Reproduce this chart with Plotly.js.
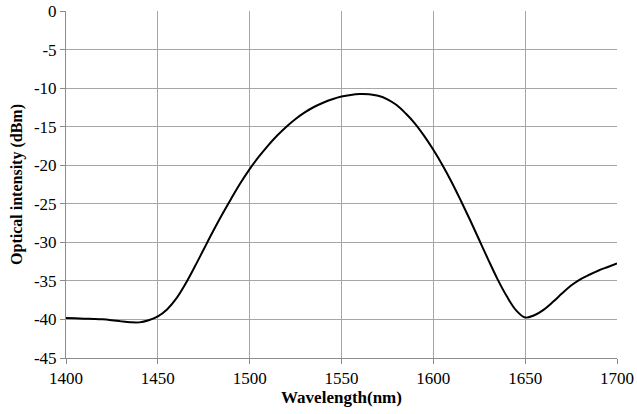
<!DOCTYPE html>
<html>
<head>
<meta charset="utf-8">
<script src="https://cdn.plot.ly/plotly-3.0.1.min.js"></script>
<style>
  html, body { margin: 0; padding: 0; background: #fff; }
  #chart { width: 637px; height: 414px; }
</style>
</head>
<body>
<div id="chart"></div>
<script>
// Transmission spectrum, sampled every 5 nm
const wavelength = [
  1400, 1405, 1410, 1415, 1420, 1425, 1430, 1435, 1440, 1445,
  1450, 1455, 1460, 1465, 1470, 1475, 1480, 1485, 1490, 1495,
  1500, 1505, 1510, 1515, 1520, 1525, 1530, 1535, 1540, 1545,
  1550, 1555, 1560, 1565, 1570, 1575, 1580, 1585, 1590, 1595,
  1600, 1605, 1610, 1615, 1620, 1625, 1630, 1635, 1640, 1645,
  1650, 1655, 1660, 1665, 1670, 1675, 1680, 1685, 1690, 1695, 1700
];
const intensity = [
  -39.8, -39.85, -39.9, -39.93, -39.98, -40.1, -40.25, -40.37, -40.38, -40.1,
  -39.6, -38.7, -37.3, -35.4, -33.2, -30.9, -28.6, -26.4, -24.3, -22.3,
  -20.5, -18.9, -17.45, -16.15, -15.0, -14.0, -13.15, -12.45, -11.9, -11.45,
  -11.1, -10.88, -10.77, -10.8, -11.0, -11.45, -12.2, -13.3, -14.6, -16.2,
  -18.0, -20.0, -22.2, -24.6, -27.1, -29.7, -32.3, -34.8, -37.0, -38.8,
  -39.75, -39.45, -38.75, -37.75, -36.65, -35.6, -34.8, -34.2, -33.65, -33.2, -32.75
];
const xTicks = [1400, 1450, 1500, 1550, 1600, 1650, 1700];
const yTicks = [0, -5, -10, -15, -20, -25, -30, -35, -40, -45];

const serif = 'Liberation Serif, Times New Roman, serif';

Plotly.newPlot('chart', [{
  x: wavelength,
  y: intensity,
  type: 'scatter',
  mode: 'lines',
  line: { color: '#000', width: 2, shape: 'spline', smoothing: 1 },
  hoverinfo: 'skip'
}], {
  width: 637,
  height: 414,
  margin: { l: 66, r: 20, t: 11, b: 56 },
  paper_bgcolor: '#fff',
  plot_bgcolor: '#fff',
  showlegend: false,
  font: { family: serif, size: 17, color: '#000' },
  xaxis: {
    range: [1400, 1700],
    tickvals: xTicks,
    ticktext: xTicks.map(String),
    showgrid: true,
    gridcolor: '#a6a6a6',
    gridwidth: 1,
    zeroline: false,
    showline: true,
    linecolor: '#8c8c8c',
    linewidth: 1,
    ticks: 'outside',
    ticklen: 5,
    tickcolor: '#8c8c8c',
    tickfont: { family: serif, size: 17, color: '#000' },
    title: {
      text: '<b>Wavelength(nm)</b>',
      font: { family: serif, size: 17, color: '#000' },
      standoff: 0
    }
  },
  yaxis: {
    range: [-45, 0],
    tickvals: yTicks,
    ticktext: yTicks.map(String),
    showgrid: true,
    gridcolor: '#a6a6a6',
    gridwidth: 1,
    zeroline: false,
    showline: true,
    linecolor: '#8c8c8c',
    linewidth: 1,
    ticks: 'outside',
    ticklen: 5,
    tickcolor: '#8c8c8c',
    tickfont: { family: serif, size: 17, color: '#000' },
    title: {
      text: '<b>Optical intensity (dBm)</b>',
      font: { family: serif, size: 16, color: '#000' },
      standoff: 7
    }
  }
}, { displayModeBar: false, staticPlot: true });
</script>
</body>
</html>
